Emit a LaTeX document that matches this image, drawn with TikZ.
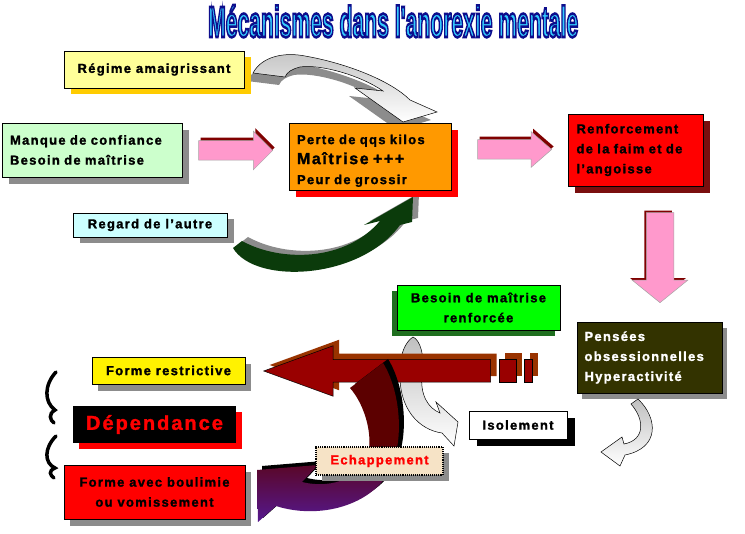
\documentclass[tikz,border=0pt]{standalone}
\usepackage{fontspec}
\setmainfont{Liberation Sans}[LetterSpace=10, BoldFeatures={FakeBold=1.5}]
\newfontfamily\titlefont{Liberation Sans}
\usetikzlibrary{shadows,shapes.arrows}
\definecolor{pinkA}{HTML}{FF99CC}
\definecolor{pinkS}{HTML}{800000}
\definecolor{regimeY}{HTML}{FFFF99}
\definecolor{goldS}{HTML}{FFCC00}
\definecolor{manqueG}{HTML}{CCFFCC}
\definecolor{regardC}{HTML}{CCFFFF}
\definecolor{orangeP}{HTML}{FF9900}
\definecolor{renfS}{HTML}{7A0E0E}
\definecolor{oliveD}{HTML}{333300}
\definecolor{besoinS}{HTML}{1F6F1F}
\definecolor{bigred}{HTML}{990000}
\definecolor{brownS}{HTML}{993300}
\definecolor{cTop}{HTML}{5C0000}
\definecolor{cBot}{HTML}{55188F}
\definecolor{greenA}{HTML}{0B3B0B}
\definecolor{shGray}{HTML}{8C8C8C}
\definecolor{echapF}{HTML}{F6E3C6}
\definecolor{ttlCyan}{HTML}{33CCFF}
\newcommand{\ttltext}{\resizebox{370pt}{32pt}{\titlefont\bfseries\special{pdf:literal 0.05 0.05 0.55 RG 2 Tr 0.6 w}Mécanismes dans l'anorexie mentale\special{pdf:literal 0 Tr}}}
\begin{document}
\begin{tikzpicture}[x=1pt,y=-1pt,
  box/.style={draw=black, line width=0.9pt, inner sep=0pt, font=\bfseries\fontsize{13}{20}\selectfont, align=center},
  shad/.style n args={3}{drop shadow={shadow xshift=#1pt, shadow yshift=#2pt, fill=#3, opacity=1}},
  blockarrow/.style={single arrow, single arrow head indent=0pt, line width=0.5pt},
  curvearrow/.style={draw=black, line width=0.5pt},
  brace/.style={draw=black, line width=3.5pt, line cap=round}]
\fill[white] (0,0) rectangle (745,534);
\useasboundingbox (0,0) rectangle (745,534);

% title
\node[anchor=base west, inner sep=0pt, text=ttlCyan] (title) at (208,37) {\ttltext};

% gray curved arrow regime -> perte
\def\grayarrow{(253,73) .. controls (262,56) and (285,52) .. (305,56) .. controls (345,63) and (390,80) .. (410,100) -- (437,112) -- (403,122) -- (355,88) -- (383,91) .. controls (360,75) and (320,64) .. (300,67) .. controls (292,69) and (287,72) .. (285,77) -- cycle}
\fill[shGray, shift={(-6,8)}] \grayarrow;
\shade[curvearrow, top color=gray!45, bottom color=white] \grayarrow;

% green curved arrow regard -> perte
\def\greenarrow{(242,241) .. controls (280,262) and (345,262) .. (380,221) -- (364,225) -- (413,197) -- (412,222) -- (400,225) .. controls (360,280) and (255,285) .. (233,248) -- cycle}
\fill[shGray, shift={(6,-4)}] \greenarrow;
\fill[greenA] \greenarrow;

% top boxes
\node[box, fill=regimeY, minimum width=180pt, minimum height=37pt, shad={7}{-6}{goldS}] (regime) at (154,69.5) {Régime amaigrissant};
\node[box, fill=manqueG, minimum width=180pt, minimum height=54pt, text width=164pt, align=left, shad={7}{-7}{shGray}] (manque) at (92,150) {Manque de confiance\\Besoin de maîtrise};
\node[box, fill=regardC, minimum width=154pt, minimum height=24pt, shad={7}{-6}{shGray}] (regard) at (150,225) {Regard de l’autre};
\node[box, fill=orangeP, minimum width=162pt, minimum height=67pt, text width=146pt, align=left, shad={7}{-7}{red}] (perte) at (370,156.5) {\rule{0pt}{18pt}Perte de qqs kilos\\{\fontsize{16}{20}\selectfont Maîtrise +++}\\Peur de grossir};
\node[box, fill=red, minimum width=135pt, minimum height=72pt, text width=118pt, align=left, shad={7}{-7}{renfS}] (renf) at (635.5,150) {Renforcement\\de la faim et de\\l’angoisse};

% pink block arrows
\node[blockarrow, draw=gray!70, fill=pinkA, inner sep=9.5pt, minimum height=74pt, single arrow head extend=9.5pt, anchor=tip, shad={2}{3}{pinkS}] (a1) at (273,150.5) {};
\node[blockarrow, draw=gray!70, fill=pinkA, inner sep=9.5pt, minimum height=74pt, single arrow head extend=8pt, single arrow tip angle=82, anchor=tip, shad={2}{3}{pinkS}] (a2) at (552,149.5) {};
\node[blockarrow, draw=gray!70, fill=pinkA, inner sep=13.5pt, minimum height=90pt, single arrow head extend=14pt, single arrow tip angle=102, shape border rotate=270, anchor=tip, shad={-2}{2}{pinkS}] (a3) at (660,303) {};

% middle right boxes
\node[box, fill=oliveD, text=white, minimum width=145pt, minimum height=71pt, text width=130pt, align=left, shad={5}{-6}{shGray}] (pensees) at (649.5,357.5) {Pensées\\obsessionnelles\\Hyperactivité};
\node[box, fill=green, minimum width=163pt, minimum height=45pt, shad={-5}{-6}{besoinS}] (besoin) at (478.5,307.5) {Besoin de maîtrise\\renforcée};

% gray arrow besoin -> isolement (behind red arrow)
\shade[curvearrow, top color=gray!50, bottom color=white] (413,337) .. controls (420,340) and (425,355) .. (422,375) .. controls (420,395) and (428,408) .. (440,413) -- (436,402) -- (458,422) -- (454,446) -- (442,433) .. controls (420,430) and (398,410) .. (400,370) .. controls (400,355) and (405,342) .. (413,337) -- cycle;

% big red arrow and squares
\node[blockarrow, draw=black, fill=bigred, inner sep=11pt, minimum height=227pt, single arrow head extend=14pt, single arrow tip angle=40, shape border rotate=180, anchor=tip, shad={6}{6}{brownS}] (bigarrow) at (263,371) {};
\node[draw=black, line width=0.5pt, fill=bigred, inner sep=0pt, minimum width=17pt, minimum height=23pt, shad={6}{6}{brownS}] (sq1) at (507.5,370.5) {};
\node[draw=black, line width=0.5pt, fill=bigred, inner sep=0pt, minimum width=8pt, minimum height=23pt, shad={6}{6}{brownS}] (sq2) at (528,370.5) {};

% C-shaped curved arrow (escape)
\def\carrow{(383,363) .. controls (400,390) and (405,440) .. (390,470) .. controls (372,505) and (320,520) .. (276,506) -- (258,522) -- (257,470) -- (318,465) -- (302,482) .. controls (335,490) and (362,475) .. (368,455) .. controls (373,435) and (365,405) .. (350,388) -- cycle}
\fill[black, shift={(5,-4)}] \carrow;
\shade[top color=cTop, bottom color=cBot, middle color=cTop] \carrow;

% small gray arrow under pensees
\shade[curvearrow, top color=gray!50, bottom color=white] (631,404) -- (638,399) .. controls (658,418) and (660,448) .. (625,455) -- (620,466) -- (601,452) -- (622,437) -- (624,444) .. controls (645,440) and (645,420) .. (631,404) -- cycle;

% bottom boxes
\node[box, fill=yellow, minimum width=153pt, minimum height=27pt, shad={6}{-7}{shGray}] (frest) at (168.5,370.5) {Forme restrictive};
\node[box, draw=none, fill=black, text=red, font=\bfseries\fontsize{20}{24}\selectfont, minimum width=163pt, minimum height=37pt, shad={6}{-6}{red}] (dep) at (154.5,424.5) {Dépendance};
\node[box, fill=red, minimum width=181pt, minimum height=54pt, shad={6}{-7}{shGray}] (boul) at (154.5,492) {Forme avec boulimie\\ou vomissement};
\node[box, fill=echapF, text=red, densely dotted, line width=1.4pt, minimum width=127pt, minimum height=28pt, shad={6}{-6}{shGray}] (echap) at (379.5,461) {Echappement};
\node[box, fill=white, minimum width=98pt, minimum height=28pt, shad={8}{-7}{black}] (isol) at (518,425) {Isolement};

% braces on the left
\draw[brace] (56,372) .. controls (44,385) and (44,402) .. (55,410) .. controls (48,414) and (50,420) .. (54,423);
\draw[brace] (56,436) .. controls (44,448) and (44,463) .. (55,468) .. controls (48,471) and (50,475) .. (54,478);
\end{tikzpicture}
\end{document}
